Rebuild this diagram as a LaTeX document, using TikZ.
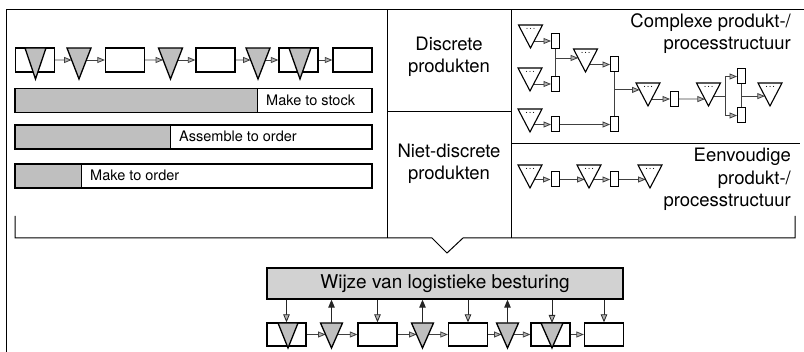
\documentclass[tikz,border=0pt]{standalone}
\usepackage{fontspec}
\setmainfont{TeX Gyre Heros}
\usetikzlibrary{arrows.meta,calc}
\pgfdeclarelayer{background}
\pgfsetlayers{background,main}

\newcommand\bigfont{\fontsize{18.5}{22.5}\selectfont}
\newcommand\barfont{\fontsize{14.5}{17}\selectfont}

\tikzset{
  frame/.style={draw=black, line width=1pt},
  stepbox/.style={draw=black, line width=1.3pt, fill=white, minimum width=39pt, minimum height=24pt, inner sep=0pt},
  bar/.style={draw=black, line width=1.5pt, fill=white, minimum width=357pt, minimum height=24pt, inner sep=0pt},
  barfill/.style={path picture={
      \fill[gray!50] (path picture bounding box.north west) rectangle ($(path picture bounding box.south west)+(#1pt,0pt)$);
      \draw[black, line width=0.7pt] ($(path picture bounding box.north west)+(#1pt,0pt)$) -- ($(path picture bounding box.south west)+(#1pt,0pt)$);}},
  srect/.style={draw=black, line width=1pt, fill=white, minimum width=8pt, minimum height=15pt, inner sep=0pt},
  tricell/.style={inner sep=0pt, outer sep=0pt},
  grayface/.style={draw=black, line width=1.3pt, fill=gray!50, line join=miter},
  whiteface/.style={draw=black, line width=1.1pt, fill=white},
  wire/.style={draw=black!75, line width=0.85pt},
  conn/.style={wire, -{Triangle[length=7.5pt,width=6pt,fill=gray!60,line width=0.8pt]}},
  upconn/.style={draw=black!85, line width=0.9pt, -{Triangle[length=8pt,width=6.5pt]}},
  downconn/.style={draw=black!85, line width=0.9pt, -{Triangle[length=8pt,width=6.5pt,fill=gray!60,line width=0.8pt]}},
  txt/.style={inner sep=0pt, text=black},
}

% downward triangle: name, centre x, top y, width, height, face style
\newcommand\downtri[6]{%
  \node[tricell, minimum width=#4pt, minimum height=#5pt, anchor=north] (#1) at (#2,#3) {};
  \draw[#6] (#1.north west) -- (#1.north east) -- (#1.south) -- cycle;
}
% white stock triangle with the dotted level under its top edge
\newcommand\lvltri[3]{%
  \downtri{#1}{#2}{#3}{24}{23}{whiteface}
  \foreach \dx in {-3.5,0,3.5} \fill ($(#1.north)+(\dx,3.4)$) circle (0.6pt);
}

\begin{document}
\begin{tikzpicture}[x=1pt, y=-1pt]
\useasboundingbox (0,0) rectangle (804,352);

% frame and cells
\draw[frame] (6,352) -- (6,10) -- (804,10);
\draw[frame] (387,10) -- (387,238);
\draw[frame] (511,10) -- (511,238);
\draw[frame] (387,112) -- (511,112);
\draw[frame] (511,143.5) -- (800,143.5);
\draw[frame] (15,216) -- (15,238) -- (432,238) -- (447,253) -- (463,238) -- (795,238) -- (795,216);

% upper-left process chain
\node[stepbox] (p1) at (35,60) {};
\downtri{q1}{35.5}{48}{21}{31}{grayface}
\downtri{q2}{79}{48}{24}{31}{grayface}
\node[stepbox] (p3) at (125,60) {};
\downtri{q4}{170.5}{48}{24}{31}{grayface}
\node[stepbox] (p5) at (215.5,60) {};
\downtri{q6}{258}{48}{24}{31}{grayface}
\node[stepbox] (p7) at (298.5,60) {};
\downtri{q7}{300}{48}{22}{31}{grayface}
\node[stepbox] (p8) at (352.5,60) {};

\coordinate (q2l) at ($(q2.north west)!.387!(q2.south)$);
\coordinate (q4l) at ($(q4.north west)!.387!(q4.south)$);
\coordinate (q6l) at ($(q6.north west)!.387!(q6.south)$);
\begin{pgfonlayer}{background}
\draw[conn] (p1.east) -- (q2l);
\draw[conn] (q2.center |- p3.west) -- (p3.west);
\draw[conn] (p3.east) -- (q4l);
\draw[conn] (q4.center |- p5.west) -- (p5.west);
\draw[conn] (p5.east) -- (q6l);
\draw[conn] (q6.center |- p7.west) -- (p7.west);
\draw[conn] (p7.east) -- (p8.west);
\end{pgfonlayer}

% decoupling point bars
\node[bar, barfill=242] (b1) at (193.5,100.5) {};
\node[bar, barfill=155] (b2) at (193.5,137) {};
\node[bar, barfill=66] (b3) at (193.5,176) {};
\node[txt, font=\barfont, anchor=base west] (t1) at (266,105.5) {Make to stock};
\node[txt, font=\barfont, anchor=base west] (t2) at (179,142) {Assemble to order};
\node[txt, font=\barfont, anchor=base west] (t3) at (90,181) {Make to order};

% product type labels
\node[txt, font=\bigfont, align=center] (m1) at (449,57) {Discrete\\produkten};
\node[txt, font=\bigfont, align=center] (m2) at (449,164) {Niet-discrete\\produkten};
\node[txt, font=\bigfont, align=right, anchor=north east] (c1) at (791,13) {Complexe produkt-/\\processtructuur};
\node[txt, font=\bigfont, align=right, anchor=north east] (c2) at (791,148) {Eenvoudige\\produkt-/\\processtructuur};

% complex structure
\lvltri{a1}{530.5}{25}
\node[srect] (r1) at (555.5,41) {};
\lvltri{a2}{530}{68}
\node[srect] (r2) at (555.5,84) {};
\lvltri{a3}{585.5}{49}
\node[srect] (r3) at (614.5,64.5) {};
\lvltri{a5}{530}{109}
\node[srect] (r4) at (555.5,124.5) {};
\node[srect] (r5) at (614.5,124.5) {};
\lvltri{a4}{648}{83}
\node[srect] (r6) at (674.5,99) {};
\lvltri{a6}{708.5}{83}
\node[srect] (r7) at (741.5,76.5) {};
\node[srect] (r8) at (741.5,115.5) {};
\lvltri{a7}{770}{83}
\coordinate (a3in) at ($(a3.north west)!.39!(a3.south)$);
\coordinate (a4in) at ($(a4.north west)!.30!(a4.south)$);
\coordinate (a6in) at ($(a6.north west)!.70!(a6.south)$);
\coordinate (a7in) at ($(a7.north west)!.57!(a7.south)$);
\coordinate (k) at (725,96);
\begin{pgfonlayer}{background}
\draw[conn] (a1.center |- r1.west) -- (r1.west);
\draw[conn] (a2.center |- r2.west) -- (r2.west);
\draw[wire] (r1.south) -- (r2.north);
\draw[conn] (r1.south |- a3in) -- (a3in);
\draw[conn] (a3.center |- r3.west) -- (r3.west);
\draw[wire] (r3.south) -- (r5.north);
\draw[conn] (r3.south |- a4in) -- (a4in);
\draw[conn] (a5.center |- r4.west) -- (r4.west);
\draw[conn] (r4.east) -- (r5.west);
\draw[conn] (a4.center |- r6.west) -- (r6.west);
\draw[conn] (r6.east) -- (a6in);
\draw[wire] (a6.center |- k) -- (k);
\draw[wire] (r7.west -| k) -- (r8.west -| k);
\draw[conn] (r7.west -| k) -- (r7.west);
\draw[conn] (r8.west -| k) -- (r8.west);
\draw[wire] (r7.south) -- (r8.north);
\draw[conn] (r7.south |- a7in) -- (a7in);
\end{pgfonlayer}

% simple structure
\lvltri{e1}{530}{165}
\node[srect] (f1) at (555,179.5) {};
\lvltri{e2}{589}{165}
\node[srect] (f2) at (614.5,179.5) {};
\lvltri{e3}{650}{165}
\coordinate (e2in) at ($(e2.north west)!.63!(e2.south)$);
\coordinate (e3in) at ($(e3.north west)!.63!(e3.south)$);
\begin{pgfonlayer}{background}
\draw[conn] (e1.center |- f1.west) -- (f1.west);
\draw[conn] (f1.east) -- (e2in);
\draw[conn] (e2.center |- f2.west) -- (f2.west);
\draw[conn] (f2.east) -- (e3in);
\end{pgfonlayer}

% control box
\node[draw=black, line width=1.3pt, fill=gray!35, minimum width=356pt, minimum height=31pt, inner sep=0pt, font=\fontsize{19}{22}\selectfont] (w) at (445,283.5) {Wijze van logistieke besturing};

% lower process chain
\node[stepbox, minimum height=23pt] (s1) at (286.5,334.5) {};
\downtri{u1}{288}{323}{20}{25}{grayface}
\downtri{u2}{331.5}{323}{22}{25}{grayface}
\node[stepbox, minimum height=23pt] (s3) at (377.5,334.5) {};
\downtri{u4}{422.5}{323}{22}{25}{grayface}
\node[stepbox, minimum height=23pt] (s5) at (468,334.5) {};
\downtri{u6}{507.5}{323}{22}{25}{grayface}
\node[stepbox, minimum height=23pt] (s7) at (550.5,334.5) {};
\downtri{u7}{552}{323}{22}{25}{grayface}
\node[stepbox, minimum height=23pt] (s8) at (604,334.5) {};
\coordinate (u2l) at ($(u2.north west)!.46!(u2.south)$);
\coordinate (u4l) at ($(u4.north west)!.46!(u4.south)$);
\coordinate (u6l) at ($(u6.north west)!.46!(u6.south)$);
\begin{pgfonlayer}{background}
\draw[conn] (s1.east) -- (u2l);
\draw[conn] (u2.center |- s3.west) -- (s3.west);
\draw[conn] (s3.east) -- (u4l);
\draw[conn] (u4.center |- s5.west) -- (s5.west);
\draw[conn] (s5.east) -- (u6l);
\draw[conn] (u6.center |- s7.west) -- (s7.west);
\draw[conn] (s7.east) -- (s8.west);
\end{pgfonlayer}

% control links
\draw[downconn] (w.south -| s1.north) -- (s1.north);
\draw[upconn] (u2.north) -- (u2.north |- w.south);
\draw[downconn] (w.south -| s3.north) -- (s3.north);
\draw[upconn] (u4.north) -- (u4.north |- w.south);
\draw[downconn] (w.south -| s5.north) -- (s5.north);
\draw[upconn] (u6.north) -- (u6.north |- w.south);
\draw[downconn] (w.south -| u7.north) -- (u7.north);
\draw[downconn] (w.south -| s8.north) -- (s8.north);
\end{tikzpicture}
\end{document}
